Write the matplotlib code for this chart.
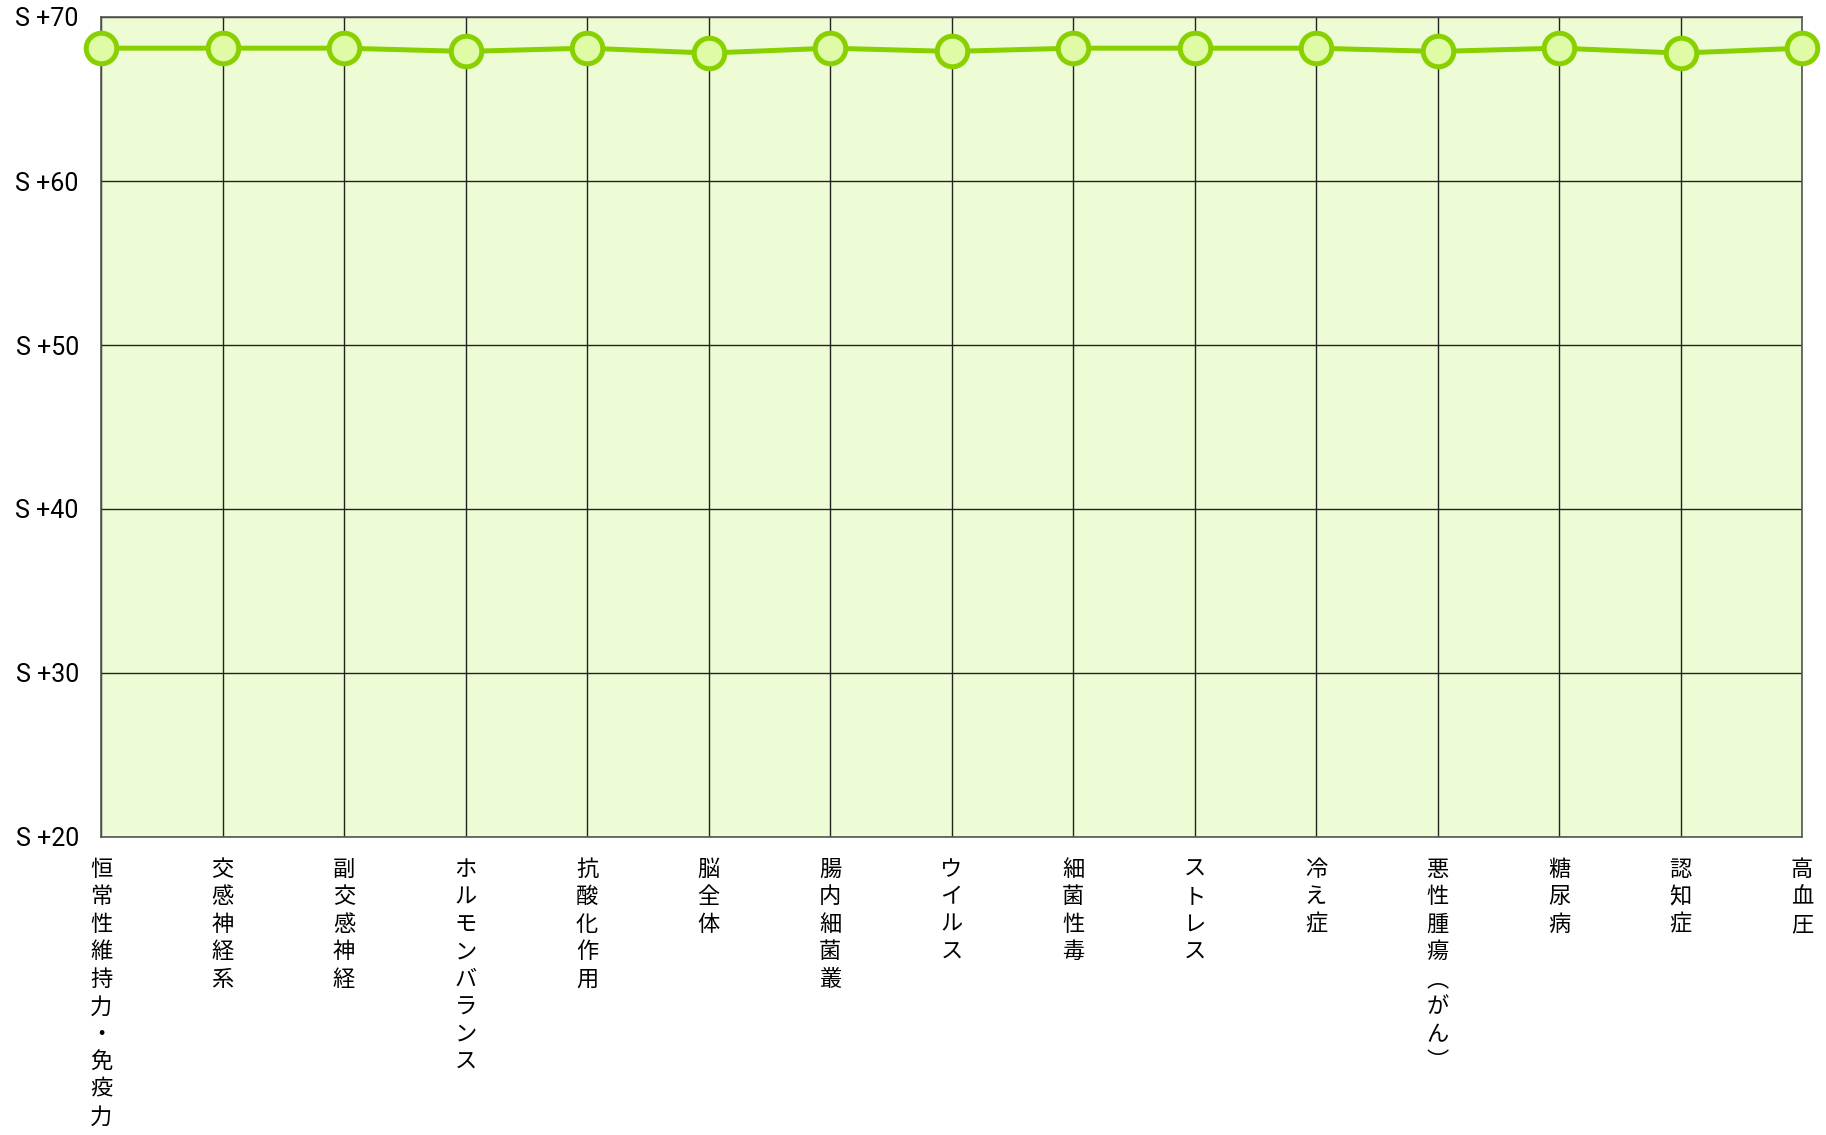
import matplotlib
matplotlib.use("Agg")
import matplotlib.pyplot as plt
import numpy as np

plt.rcParams['font.family'] = ['Roboto', 'Noto Sans CJK JP', 'DejaVu Sans']

# 項目と値
categories = [
    "恒常性維持力・免疫力", "交感神経系", "副交感神経", "ホルモンバランス",
    "抗酸化作用", "脳全体", "腸内細菌叢", "ウイルス", "細菌性毒", "ストレス",
    "冷え症", "悪性腫瘍︵がん︶", "糖尿病", "認知症", "高血圧",
]
values = [68.1, 68.1, 68.1, 67.9, 68.1, 67.8, 68.1, 67.9, 68.1, 68.1,
          68.1, 67.9, 68.1, 67.8, 68.1]
y_ticks = [20, 30, 40, 50, 60, 70]
y_ticklabels = [f"S +{v}" for v in y_ticks]

fig = plt.figure(figsize=(18.26, 11.35), dpi=100)
ax = fig.add_axes([101 / 1826, 1 - 837 / 1135, 1701 / 1826, 820 / 1135])
ax.set_facecolor("#eefcd6")

x = np.arange(len(categories))
ax.plot(x, values, color="#88d000", lw=3.6, marker="o", ms=22,
        mfc="#e0fba6", mec="#88d000", mew=3.6, clip_on=False, zorder=5)

ax.set_xlim(0, len(categories) - 1)
ax.set_ylim(20, 70)
ax.set_yticks(y_ticks)
ax.set_yticklabels(y_ticklabels, fontsize=18)
ax.set_xticks(x)
ax.set_xticklabels([])
ax.tick_params(length=0, pad=16)

# 縦書きラベル
for xi, lab in zip(x, categories):
    ax.annotate("\n".join(lab), (xi, 20), xytext=(0, -15), textcoords="offset points",
                ha="center", va="top", fontsize=16, linespacing=1.25,
                family=['Noto Sans CJK JP', 'DejaVu Sans'])

ax.grid(True, color="#222222", lw=1.0)
ax.set_axisbelow(True)
for s in ax.spines.values():
    s.set_color("#555555")
    s.set_linewidth(1.2)

fig.savefig("out.png", dpi=100)
